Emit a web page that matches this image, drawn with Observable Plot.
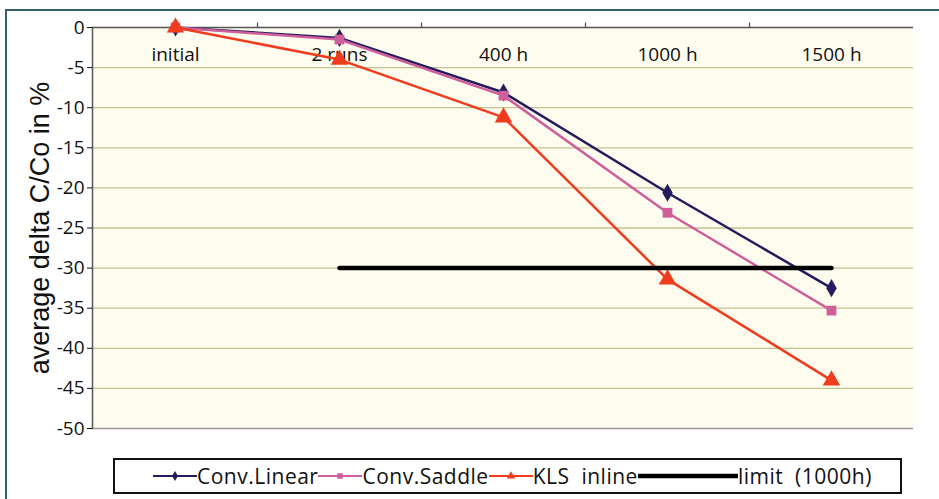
<!DOCTYPE html>
<html><head><meta charset="utf-8">
<script src="https://cdn.jsdelivr.net/npm/d3@7"></script>
<script src="https://cdn.jsdelivr.net/npm/@observablehq/plot@0.6"></script>
<style>
body{margin:0;background:#fff;width:939px;height:499px;overflow:hidden;position:relative;font-family:"Open Sans",sans-serif}
#frame{position:absolute;left:5px;top:9px;width:940px;height:500px;border-left:2px solid #2f5f70;border-top:2px solid #2f5f70;box-sizing:border-box}
#chart{position:absolute;left:0;top:0}
#legend{position:absolute;left:113px;top:458px;width:789px;height:36px;border:2px solid #111;box-sizing:border-box;display:flex;align-items:center;padding-left:38px;font-size:21px;letter-spacing:0.5px;color:#111;background:#fff}
#legend .item{display:flex;align-items:center}
#legend svg{display:block}
</style></head>
<body>
<div id="frame"></div>
<div id="chart"></div>
<div id="legend"></div>
<script>
const categories = ["initial", "2 runs", "400 h", "1000 h", "1500 h"];
const convLinear = [0, -1.3, -8.1, -20.6, -32.5];
const convSaddle = [0, -1.5, -8.5, -23.1, -35.3];
const klsInline  = [0, -4.0, -11.2, -31.4, -44.0];
const limitCategories = ["2 runs", "400 h", "1000 h", "1500 h"];
const limitValue = -30;
const yTicks = [0, -5, -10, -15, -20, -25, -30, -35, -40, -45, -50];
const yLabel = "average delta C/Co in %";
const seriesNames = ["Conv.Linear", "Conv.Saddle", "KLS  inline", "limit  (1000h)"];

const colors = {"Conv.Linear": "#241c5c", "Conv.Saddle": "#cf5f9c", "KLS  inline": "#ef3b1e", "limit  (1000h)": "#000"};
const symbols = {"Conv.Linear": "diamond", "Conv.Saddle": "square", "KLS  inline": "triangle"};

const table = (vals) => categories.map((c, i) => ({c, v: vals[i]}));
const linear = table(convLinear), saddle = table(convSaddle), kls = table(klsInline);
const limit = limitCategories.map(c => ({c, v: limitValue}));

const seriesMarks = (data, name) => [
  Plot.line(data, {x: "c", y: "v", stroke: colors[name], strokeWidth: 2.5}),
  Plot.dot(data, {x: "c", y: "v", symbol: symbols[name], r: name === "KLS  inline" ? 6.5 : 5.5, fill: colors[name], stroke: "none"})
];

const plot = Plot.plot({
  width: 939, height: 448,
  marginLeft: 92, marginRight: 26, marginTop: 27, marginBottom: 20,
  style: {background: "transparent", fontFamily: "'Open Sans', sans-serif", color: "#111"},
  x: {type: "point", domain: categories, padding: 0.5},
  y: {domain: [-50, 0]},
  marks: [
    Plot.frame({fill: "#fdfcee", stroke: null}),
    Plot.ruleY(yTicks.filter(d => d < 0 && d > -50), {stroke: "#c2c290", strokeWidth: 1.3}),
    Plot.ruleY([-50], {stroke: "#9a9a9a", strokeWidth: 1.3}),
    Plot.ruleY([0], {stroke: "#555", strokeWidth: 1.5}),
    Plot.frame({anchor: "left", stroke: "#555", strokeWidth: 1.5}),
    Plot.ruleX(categories.slice(0, -1), {x: d => d, dx: 82, y1: 0, y2: 0.55, stroke: "#555", strokeWidth: 1.3}),
    Plot.axisY({ticks: yTicks, tickSize: 5, tickPadding: 3, tickFormat: d => String(d), fontSize: 19, label: null}),
    Plot.text([yLabel], {frameAnchor: "left", textAnchor: "middle", rotate: -90, dx: -52, fontSize: 27, fontFamily: "'Liberation Sans', Arial, sans-serif", fill: "#111"}),
    Plot.axisX({anchor: "top", tickSize: 0, dy: 42, fontSize: 19, label: null}),
    ...seriesMarks(linear, "Conv.Linear"),
    ...seriesMarks(saddle, "Conv.Saddle"),
    ...seriesMarks(kls, "KLS  inline"),
    Plot.line(limit, {x: "c", y: "v", stroke: "#000", strokeWidth: 4.5})
  ]
});
document.getElementById("chart").append(plot);

// legend
const legend = d3.select("#legend");
const swatchW = {"Conv.Linear": 44, "Conv.Saddle": 44, "KLS  inline": 44, "limit  (1000h)": 100};
seriesNames.forEach(name => {
  const item = legend.append("div").attr("class", "item");
  const isLimit = name.startsWith("limit");
  const w = swatchW[name];
  const svg = item.append("svg").attr("width", w).attr("height", 16);
  svg.append("line").attr("x1", 0).attr("x2", w).attr("y1", 8).attr("y2", 8)
    .attr("stroke", colors[name]).attr("stroke-width", isLimit ? 4.5 : 2);
  if (!isLimit) {
    const sym = {diamond: d3.symbolDiamond, square: d3.symbolSquare, triangle: d3.symbolTriangle}[symbols[name]];
    svg.append("path").attr("d", d3.symbol(sym, 30)()).attr("transform", `translate(${w/2},8)`).attr("fill", colors[name]);
  }
  item.append("span").style("white-space", "pre").text(name);
});
</script>
</body></html>
